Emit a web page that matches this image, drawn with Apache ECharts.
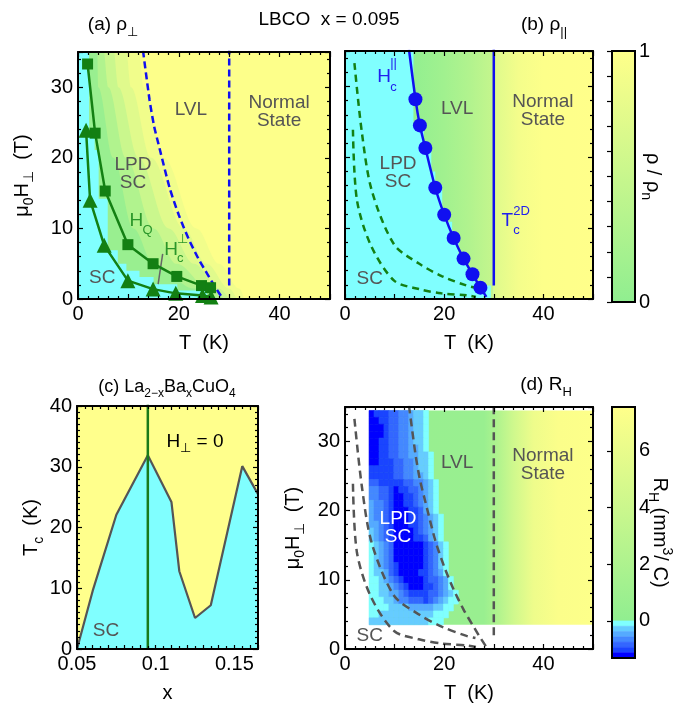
<!DOCTYPE html>
<html>
<head>
<meta charset="utf-8">
<script src="https://cdn.jsdelivr.net/npm/echarts@6.0.0/dist/echarts.min.js"></script>
<style>
html,body{margin:0;padding:0;background:#fff;}
#chart{width:688px;height:704px;}
</style>
</head>
<body>
<div id="chart"></div>
<script>
// ================= DATA =================
// H_Q (squares): T (K), mu0H (T)
const hqT = [1.9, 3.4, 5.4, 9.9, 14.9, 19.6, 24.5, 26.3];
const hqH = [33.3, 23.5, 15.3, 7.7, 5.0, 3.2, 1.9, 1.6];
// Hc perp (triangles)
const hcPerpT = [1.6, 2.4, 5.2, 9.9, 14.9, 19.4, 24.7, 26.4];
const hcPerpH = [23.9, 14.0, 7.6, 2.6, 1.4, 0.8, 0.5, 0.3];
// Hc parallel (circles) and its line
const hcParT = [14.2, 15.1, 16.2, 18.2, 20.0, 21.9, 23.9, 25.7, 27.3];
const hcParH = [28.2, 24.5, 21.3, 15.7, 11.9, 8.6, 5.7, 3.5, 1.6];
const hcParLineT = [12.9, 14.2, 15.1, 16.2, 18.2, 20.0, 21.9, 23.9, 25.7, 27.3, 28.5];
const hcParLineH = [35.2, 28.2, 24.5, 21.3, 15.7, 11.9, 8.6, 5.7, 3.5, 1.6, 0.3];
// Tc^2D line
const tc2dT = [30, 30];
const tc2dH = [1.9, 35.5];
const tc2dHd = [2.0, 35.5];
// (a) rho_perp = 0 boundary (stepped)
const aScT = [0, 2.2, 3.3, 4.1, 5.9, 7.9, 9.6, 12.2, 15, 19.7, 25.6, 27.6];
const aScH = [35.5, 23, 21.1, 14.2, 6.9, 5.0, 4.0, 3.1, 2.1, 1.2, 0.2, 0];
// (a) iso-rho contours (T at the H levels below)
const aLevH = [35.5, 30, 20, 10, 5, 1.5, 0];
const aIso1T = [3.8, 4, 7, 11, 15, 23, 27.8];
const aIso2T = [5, 6, 9.5, 15, 19.5, 26, 29];
const aIso3T = [7, 8, 12, 18, 23, 28, 30];
const aIso4T = [9.5, 10.5, 14.5, 21, 25.5, 30, 31.5];
const aIso5T = [12, 13, 17, 23.5, 28, 32, 33];
const aBandRho = [0.08, 0.3, 0.52, 0.72, 0.87];   // rho between successive contours
const aBaseRho = 0.98;
// (a) pointer from label Hc to curve
const aPtrT = [16.8, 15.9];
const aPtrH = [6.4, 2.1];
// (b) rho_par = 0 boundary (stepped)
const bScT = [0, 13.8, 15.9, 17.4, 18.2, 19.6, 20.6, 21.6, 22.9, 24.6, 26.3, 29.4];
const bScH = [35.5, 24.7, 21.4, 18, 16.1, 12.8, 10.9, 8.5, 6.2, 4.3, 1.9, 0];
// (b) rho/rho_n versus T in LVL and normal state
const bLvlT = [0, 14, 20, 25, 30];
const bLvlRho = [0.03, 0.03, 0.15, 0.3, 0.48];
const bNormT = [30, 31, 35, 40, 50];
const bNormRho = [0.68, 0.74, 0.9, 0.98, 1.0];
// (c) La2-xBaxCuO4 Tc(x)
const cX = [0.05, 0.06, 0.075, 0.095, 0.11, 0.115, 0.125, 0.135, 0.155, 0.165];
const cTc = [0, 9.6, 22.1, 31.9, 24.2, 12.8, 5.1, 7.2, 30.1, 25.5];
const cXstar = 0.095;
// (d) R_H : positive part vs T, negative part cells (level 1..7, 1K x 1T)
const dRhT = [4.85, 28, 30.5, 34, 38, 43, 50];
const dRhV = [0.5, 0.6, 2.0, 4.3, 6.4, 7.3, 7.4];
const dRegionT = [4.85, 50];
const dRegionH = [3.5, 34.5];
const dColT0 = 4.85;
const dRowTopH = 34;
const dRows = [
 "766655443221",
 "776655443221",
 "777655443221",
 "777655443221",
 "776655443221",
 "776655443321",
 "7766554433221",
 "7766655443221",
 "6666655443221",
 "6666655443321",
 "55666665544321",
 "44556766554321",
 "44556776654321",
 "34456776654321",
 "34456777665321",
 "344567776654321",
 "334567776654321",
 "234567777654321",
 "234567777665321",
 "1234577777765421",
 "1234577777765421",
 "1234577777765421",
 "1234567777765421",
 "1223567777665431",
 "11234567777655431",
 "11223456777665431",
 "112233456666554321",
 "111223445556543211",
 "11112222333332211",
 "1122222222222111",
 "222222222222111"
];
// colour bar ranges
const cbRhoRange = [0, 1];
const cbRhRange = [-1.31, 7.55];

// ================= STYLE =================
const FONT = "'Liberation Sans', Arial, Helvetica, sans-serif";
const CYAN = '#80FFFF';
const YEL_C = 'rgb(255,255,140)';
const BLUE = '#1010f0';
const GRN = '#138013';
const GRN_T = '#2a962a';
const GRAY_T = '#555555';
const GREEN0 = [144, 238, 144], YELLOW1 = [255, 255, 138];
const BLUES = ['', '#80FFFF', '#66CCFF', '#55AAFF', '#4488FF', '#3366FF', '#1A44FF', '#0000FF'];
function ramp(f){ f = Math.max(0, Math.min(1, f)); return 'rgb(' + GREEN0.map((g,i)=>Math.round(g + (YELLOW1[i]-g)*f)).join(',') + ')'; }
function hGrad(ts, vs, t0, t1, scale){
  return new echarts.graphic.LinearGradient(0,0,1,0, ts.map((t,i)=>({offset:Math.max(0,Math.min(1,(t-t0)/(t1-t0))), color:ramp(vs[i]/scale)})));
}
const zip = (a,b) => a.map((v,i)=>[v,b[i]]);
function rich(size, color){
  const s = Math.round(size*0.68);
  return {
    n:{fontSize:size, fontFamily:FONT, color:color, lineHeight:size+8, verticalAlign:'middle'},
    s:{fontSize:s, fontFamily:FONT, color:color, lineHeight:s, verticalAlign:'bottom'},
    p:{fontSize:s, fontFamily:FONT, color:color, lineHeight:s, verticalAlign:'top'}
  };
}

// ================= SERIES =================
const S = []; const ref = {};
function add(s, g){ if (ref[g] === undefined) ref[g] = S.length; S.push(s); }
function area(g, pts, fill, extra){
  return Object.assign({type:'line', xAxisIndex:g, yAxisIndex:g, data:pts, symbol:'none', showSymbol:false,
    silent:true, animation:false, lineStyle:{width:0, opacity:0}, areaStyle:{color:fill, opacity:1}, z:1}, extra||{});
}
function line(g, pts, color, width, type, extra){
  return Object.assign({type:'line', xAxisIndex:g, yAxisIndex:g, data:pts, symbol:'none', showSymbol:false,
    silent:true, animation:false, lineStyle:{color:color, width:width, type:type}, z:3}, extra||{});
}
function rects(xi, data, styleFn, z){
  return {type:'custom', xAxisIndex:xi, yAxisIndex:xi, silent:true, animation:false, z:z||1,
    dimensions:['x0','x1','y0','y1','v'], encode:{x:[0,1], y:[2,3]}, data:data,
    renderItem:function(params, api){
      const a = api.coord([api.value(0), api.value(3)]);
      const b = api.coord([api.value(1), api.value(2)]);
      return {type:'rect', shape:{x:a[0], y:a[1], width:b[0]-a[0], height:b[1]-a[1]}, style:styleFn(api.value(4))};
    }};
}
const isoPts = t => [[0, aLevH[0]]].concat(zip(t, aLevH));

// ---- (a) ----
add(area(0, [[0,35.5],[50,35.5]], ramp(aBaseRho)), 0);
[aIso5T, aIso4T, aIso3T, aIso2T, aIso1T].forEach((t, k) => {
  add(area(0, isoPts(t), ramp(aBandRho[4-k]), {smooth:0.35, smoothMonotone:'x'}), 0);
});
add(area(0, zip(aScT, aScH), CYAN, {step:'end'}), 0);
add(line(0, zip(hcParLineT, hcParLineH), BLUE, 2.5, [7,4], {smooth:0.25}), 0);
add(line(0, zip(tc2dT, tc2dH), BLUE, 2.5, [7,4]), 0);
add(line(0, zip(hqT, hqH), GRN, 2.5, 'solid', {symbol:'rect', symbolSize:11, showSymbol:true, itemStyle:{color:GRN}, z:4}), 0);
add(line(0, zip(hcPerpT, hcPerpH), GRN, 2.5, 'solid', {symbol:'triangle', symbolSize:15, showSymbol:true, itemStyle:{color:GRN}, z:4}), 0);
add(line(0, zip(aPtrT, aPtrH), '#666', 1.5, 'solid'), 0);

// ---- (b) ----
add(area(1, [[0,35.5],[30,35.5]], hGrad(bLvlT, bLvlRho, 0, 30, 1)), 1);
add(area(1, [[30,35.5],[50,35.5]], hGrad(bNormT, bNormRho, 30, 50, 1)), 1);
add(area(1, zip(bScT, bScH), CYAN, {step:'end'}), 1);
add(line(1, zip(hqT, hqH), GRN, 2.5, [7,5], {smooth:0.3}), 1);
add(line(1, zip(hcPerpT, hcPerpH), GRN, 2.5, [7,5], {smooth:0.3}), 1);
add(line(1, zip(hcParLineT, hcParLineH), BLUE, 2.5, 'solid', {smooth:0.2}), 1);
add({type:'scatter', xAxisIndex:1, yAxisIndex:1, data:zip(hcParT, hcParH), symbol:'circle', symbolSize:14,
     itemStyle:{color:BLUE, opacity:1}, z:4, silent:true, animation:false}, 1);
add(line(1, zip(tc2dT, tc2dH), BLUE, 2.5, 'solid'), 1);

// ---- (c) ----
add(area(2, [[0.05,40.5],[0.165,40.5]], YEL_C), 2);
add(area(2, zip(cX, cTc), CYAN), 2);
add(line(2, zip(cX, cTc), '#555', 2.2, 'solid'), 2);
add(line(2, [[cXstar,0],[cXstar,40.5]], '#1a7a1a', 2.5, 'solid'), 2);

// ---- (d) ----
add(rects(3, [[dRegionT[0], dRegionT[1], dRegionH[0], dRegionH[1], 0]], () => ({fill:hGrad(dRhT, dRhV, dRegionT[0], dRegionT[1], cbRhRange[1])})), 3);
const dCells = [];
dRows.forEach((row, r) => {
  const h = dRowTopH - r;
  for (let c = 0; c < row.length; c++) {
    const lv = +row[c];
    if (lv > 0) dCells.push([dColT0 + c, dColT0 + c + 1, h - 0.5, h + 0.5, lv]);
  }
});
add(rects(3, dCells, v => ({fill:BLUES[v], stroke:BLUES[v], lineWidth:0.6})), 3);
add(line(3, zip(hqT, hqH), '#555', 2.5, [8,5], {smooth:0.3}), 3);
add(line(3, zip(hcPerpT, hcPerpH), '#555', 2.5, [8,5], {smooth:0.3}), 3);
add(line(3, zip(hcParLineT, hcParLineH), '#555', 2.5, [8,5], {smooth:0.25}), 3);
add(line(3, zip(tc2dT, tc2dHd), '#555', 2.5, [8,5]), 3);

// ---- colour bars ----
const vGrad = () => new echarts.graphic.LinearGradient(0,1,0,0,[{offset:0,color:ramp(0)},{offset:1,color:ramp(1)}]);
add(rects(8, [[0,1,cbRhoRange[0],cbRhoRange[1],0]], () => ({fill:vGrad()})), 4);
add(rects(8, [[0,1,cbRhoRange[0],cbRhoRange[1],0]], () => ({fill:'none', stroke:'#000', lineWidth:2}), 5), 4);
const cbBlue = [];
for (let k = 1; k <= 7; k++) {
  const step = -cbRhRange[0] / 7;
  cbBlue.push([0, 1, -k*step, -(k-1)*step, k]);
}
add(rects(9, [[0,1,0,cbRhRange[1],0]], () => ({fill:vGrad()})), 5);
add(rects(9, cbBlue, v => ({fill:BLUES[v], stroke:BLUES[v], lineWidth:0.5})), 5);
add(rects(9, [[0,1,cbRhRange[0],cbRhRange[1],0]], () => ({fill:'none', stroke:'#000', lineWidth:2}), 5), 5);

// ================= AXES =================
const tk = {color:'#000', width:1.2};
function ax(gridIndex, pos, min, max, interval, opt){
  const o = {type:'value', gridIndex:gridIndex, position:pos, min:min, max:max, interval:interval, z:10,
    axisLine:{show:true, onZero:false, lineStyle:{color:'#000', width:2}},
    axisTick:{show:true, inside:true, length:5, lineStyle:tk},
    minorTick:{show:true, splitNumber:5, length:3, lineStyle:tk},
    splitLine:{show:false}, minorSplitLine:{show:false},
    axisLabel:{show:false}};
  return Object.assign(o, opt||{});
}
const lab = (fmt, extra) => Object.assign({show:true, fontSize:20, fontFamily:FONT, color:'#000', margin:5, formatter:fmt, showMaxLabel:false}, extra||{});
const fmtT = v => (Math.round(v) % 20 === 0 && v < 50) ? String(Math.round(v)) : '';
const fmtH = v => (Math.round(v) % 10 === 0 && v < 35) ? String(Math.round(v)) : '';
const fmtX = v => { const r = Math.round(v*1000)/1000; return (Math.abs(r*20 - Math.round(r*20)) < 1e-6 && r < 0.16) ? String(r) : ''; };
const nameStyle = {fontFamily:FONT, fontSize:20, color:'#000', rich:rich(20,'#000')};
const TK = '{n|T  (K)}';
const MUH = '{n|μ}{s|0}{n|H}{s|⊥}{n|  (T)}';
const cMinor = {show:true, splitNumber:2, length:3, lineStyle:tk};

const xAxis = [
  ax(0,'bottom',0,50,10,{axisLabel:lab(fmtT), name:TK, nameLocation:'middle', nameGap:30, nameTextStyle:nameStyle}),
  ax(1,'bottom',0,50,10,{axisLabel:lab(fmtT), name:TK, nameLocation:'middle', nameGap:30, nameTextStyle:nameStyle}),
  ax(2,'bottom',0.05,0.165,0.01,{axisLabel:lab(fmtX), axisTick:{show:true, inside:true, length:4, lineStyle:tk}, minorTick:cMinor, name:'{n|x}', nameLocation:'middle', nameGap:30, nameTextStyle:nameStyle}),
  ax(3,'bottom',0,50,10,{axisLabel:lab(fmtT), name:TK, nameLocation:'middle', nameGap:30, nameTextStyle:nameStyle}),
  ax(0,'top',0,50,10), ax(1,'top',0,50,10),
  ax(2,'top',0.05,0.165,0.01,{axisTick:{show:true, inside:true, length:4, lineStyle:tk}, minorTick:cMinor}),
  ax(3,'top',0,50,10),
  {type:'value', gridIndex:4, min:0, max:1, show:false},
  {type:'value', gridIndex:5, min:0, max:1, show:false}
];
const cY = {show:true, splitNumber:10, length:3, lineStyle:tk};
const yAxis = [
  ax(0,'left',0,35,10,{axisLabel:lab(fmtH), name:MUH, nameLocation:'middle', nameGap:42, nameRotate:90, nameTextStyle:nameStyle}),
  ax(1,'left',0,35,10),
  ax(2,'left',0,40,10,{axisLabel:lab(v=>String(Math.round(v)), {showMaxLabel:true}), minorTick:cY,
     name:'{n|T}{s|c}{n|  (K)}', nameLocation:'middle', nameGap:30, nameRotate:90, nameTextStyle:nameStyle}),
  ax(3,'left',0,35,10,{axisLabel:lab(fmtH), name:MUH, nameLocation:'middle', nameGap:38, nameRotate:90, nameTextStyle:nameStyle}),
  ax(0,'right',0,35,10), ax(1,'right',0,35,10), ax(2,'right',0,40,10,{minorTick:cY}), ax(3,'right',0,35,10),
  {type:'value', gridIndex:4, position:'right', min:cbRhoRange[0], max:cbRhoRange[1], interval:1, z:10,
   axisLine:{show:false}, axisTick:{show:true, inside:true, length:5, lineStyle:tk},
   minorTick:{show:true, splitNumber:10, length:5, lineStyle:tk}, splitLine:{show:false},
   axisLabel:{show:true, fontSize:20, fontFamily:FONT, color:'#000', margin:4},
   name:'{n|ρ / ρ}{s|n}', nameLocation:'middle', nameRotate:-90, nameGap:4, nameMoveOverlap:false, nameTextStyle:nameStyle},
  {type:'value', gridIndex:5, position:'right', min:cbRhRange[0], max:cbRhRange[1], splitNumber:4, z:10,
   axisLine:{show:false}, axisTick:{show:true, inside:true, length:5, lineStyle:tk}, splitLine:{show:false},
   axisLabel:{show:true, fontSize:20, fontFamily:FONT, color:'#000', margin:4, showMinLabel:false, showMaxLabel:false},
   name:'{n|R}{s|H}{n| (mm}{p|3}{n|/ C)}', nameLocation:'middle', nameRotate:-90, nameGap:11, nameMoveOverlap:false, nameTextStyle:nameStyle}
];

const grid = [
  {left:78, top:52, width:252, height:247},
  {left:345, top:51, width:248, height:248},
  {left:77, top:406, width:181, height:251},
  {left:345, top:407, width:248, height:246},
  {left:612, top:51, width:23, height:251},
  {left:612, top:407, width:23, height:251}
];

const chart = echarts.init(document.getElementById('chart'), null, {renderer:'canvas', width:688, height:704});
chart.setOption({animation:false, backgroundColor:'#fff', grid:grid, xAxis:xAxis, yAxis:yAxis, series:S});

// ================= TEXT ANNOTATIONS =================
const gfx = [];
function txt(x, y, text, opts){
  gfx.push({type:'text', x:x, y:y, z:50, silent:true,
    style:Object.assign({text:text, fontFamily:FONT, fontSize:19, fill:'#000', align:'center', verticalAlign:'middle', lineHeight:18}, opts||{})});
}
const P = (g, x, y) => chart.convertToPixel({seriesIndex:ref[g]}, [x, y]);
// panel titles
txt(113, 25, '{n|(a) ρ}{s|⊥}', {rich:rich(19, GRN_T)});
txt(329, 20, 'LBCO  x = 0.095', {fontSize:19});
txt(544, 25, '{n|(b) ρ}{s|||}', {rich:rich(19, '#2020ee')});
txt(167, 387, '{n|(c) La}{s|2−x}{n|Ba}{s|x}{n|CuO}{s|4}', {rich:rich(18, '#000')});
txt(546, 385, '{n|(d) R}{s|H}', {rich:rich(19, '#000')});
// region labels (data coordinates)
const regionLabels = [
  [0, 'LVL', 22.4, 26.8, GRAY_T], [0, 'Normal\nState', 39.9, 26.5, GRAY_T], [0, 'LPD\nSC', 10.9, 17.7, GRAY_T], [0, 'SC', 4.8, 3.0, GRAY_T],
  [1, 'LVL', 22.6, 26.8, GRAY_T], [1, 'Normal\nState', 39.9, 26.5, GRAY_T], [1, 'LPD\nSC', 10.7, 17.8, GRAY_T], [1, 'SC', 5.0, 2.9, GRAY_T],
  [3, 'LVL', 22.6, 26.9, GRAY_T], [3, 'Normal\nState', 39.9, 26.6, GRAY_T], [3, 'LPD\nSC', 10.7, 17.6, '#ffffff'], [3, 'SC', 5.0, 1.9, GRAY_T],
  [2, 'SC', 0.0684, 3.0, GRAY_T]
];
regionLabels.forEach(l => { const p = P(l[0], l[2], l[3]); txt(p[0], p[1], l[1], {fill:l[4]}); });
{ const p = P(2, 0.125, 34.1); txt(p[0], p[1], '{n|H}{s|⊥}{n| = 0}', {rich:rich(19, GRAY_T)}); }
// symbol labels: base letter with superscript / subscript
function symLabel(g, x, y, base, sup, sub, color, supDy, subDy){
  const p = P(g, x, y);
  txt(p[0], p[1], base, {fill:color});
  if (sup) txt(p[0]+6, p[1]+supDy, sup, {fill:color, fontSize:13, align:'left'});
  if (sub) txt(p[0]+6, p[1]+subDy, sub, {fill:color, fontSize:13, align:'left'});
}
symLabel(0, 11.6, 11.1, 'H', null, 'Q', GRN_T, 0, 10);
symLabel(0, 18.45, 7.0, 'H', '⊥', 'c', GRN_T, -10, 9);
symLabel(1, 7.9, 31.3, 'H', '||', 'c', '#2020ee', -14, 10);
symLabel(1, 32.7, 11.0, 'T', '2D', 'c', '#2020ee', -10, 9);
chart.setOption({graphic:gfx});
</script>
</body>
</html>
